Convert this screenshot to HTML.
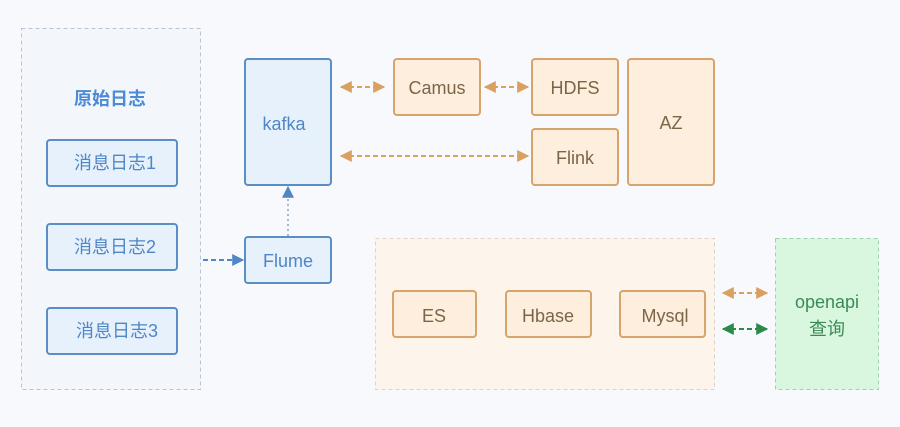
<!DOCTYPE html>
<html><head><meta charset="utf-8"><style>
html,body{margin:0;padding:0;background:#f8f9fc;}
svg{display:block}
text{font-family:"Liberation Sans","Noto Sans CJK SC",sans-serif;}
</style></head><body>
<svg width="900" height="427" viewBox="0 0 900 427" xmlns="http://www.w3.org/2000/svg">
<defs>
<marker id="ob" viewBox="0 0 10 10" refX="9" refY="5" markerWidth="6" markerHeight="6" orient="auto-start-reverse"><path d="M0,0L10,5L0,10z" fill="#d9a060"/></marker>
<marker id="bb" viewBox="0 0 10 10" refX="9" refY="5" markerWidth="6" markerHeight="6" orient="auto-start-reverse"><path d="M0,0L10,5L0,10z" fill="#4f86c6"/></marker>
<marker id="gb" viewBox="0 0 10 10" refX="9" refY="5" markerWidth="6" markerHeight="6" orient="auto-start-reverse"><path d="M0,0L10,5L0,10z" fill="#2a8a4a"/></marker>
</defs>
<rect width="900" height="427" fill="#f8f9fc"/>
<rect x="21.5" y="28.5" width="179" height="361" fill="#f3f7fc" stroke="#b8c4d2" stroke-dasharray="4,3"/>
<text x="110" y="105" text-anchor="middle" font-size="18" font-weight="bold" fill="#4a8ad6">原始日志</text>
<g fill="#e6f1fc" stroke="#5b8ec4" stroke-width="2">
<rect x="47" y="140" width="130" height="46" rx="3"/>
<rect x="47" y="224" width="130" height="46" rx="3"/>
<rect x="47" y="308" width="130" height="46" rx="3"/>
<rect x="245" y="59" width="86" height="126" rx="3"/>
<rect x="245" y="237" width="86" height="46" rx="3"/>
</g>
<g font-size="18" fill="#4f86c6" text-anchor="middle">
<text x="115" y="169">消息日志1</text>
<text x="115" y="253">消息日志2</text>
<text x="117" y="337">消息日志3</text>
<text x="284" y="130">kafka</text>
<text x="288" y="267">Flume</text>
</g>
<rect x="375.5" y="238.5" width="339" height="151" fill="#fdf4ec" stroke="#e2d2c2" stroke-dasharray="4,3"/>
<rect x="775.5" y="238.5" width="103" height="151" fill="#d9f7df" stroke="#9ed4aa" stroke-dasharray="4,3"/>
<g fill="#fdeedd" stroke="#d6a46c" stroke-width="2">
<rect x="394" y="59" width="86" height="56" rx="3"/>
<rect x="532" y="59" width="86" height="56" rx="3"/>
<rect x="532" y="129" width="86" height="56" rx="3"/>
<rect x="628" y="59" width="86" height="126" rx="3"/>
<rect x="393" y="291" width="83" height="46" rx="3"/>
<rect x="506" y="291" width="85" height="46" rx="3"/>
<rect x="620" y="291" width="85" height="46" rx="3"/>
</g>
<g font-size="18" fill="#7d6647" text-anchor="middle">
<text x="437" y="94">Camus</text>
<text x="575" y="94">HDFS</text>
<text x="575" y="164">Flink</text>
<text x="671" y="129">AZ</text>
<text x="434" y="322">ES</text>
<text x="548" y="322">Hbase</text>
<text x="665" y="322">Mysql</text>
</g>
<g font-size="18" fill="#3a8a56" text-anchor="middle">
<text x="827" y="308">openapi</text>
<text x="827" y="335">查询</text>
</g>
<g stroke-width="2" stroke-dasharray="5,3" fill="none">
<line x1="341" y1="87" x2="384" y2="87" stroke="#d9a060" marker-start="url(#ob)" marker-end="url(#ob)"/>
<line x1="485" y1="87" x2="528" y2="87" stroke="#d9a060" marker-start="url(#ob)" marker-end="url(#ob)"/>
<line x1="341" y1="156" x2="528" y2="156" stroke="#d9a060" marker-start="url(#ob)" marker-end="url(#ob)"/>
<line x1="723" y1="293" x2="767" y2="293" stroke="#d9a060" marker-start="url(#ob)" marker-end="url(#ob)"/>
<line x1="723" y1="329" x2="767" y2="329" stroke="#2a8a4a" marker-start="url(#gb)" marker-end="url(#gb)"/>
<line x1="203" y1="260" x2="243" y2="260" stroke="#4f86c6" marker-end="url(#bb)"/>
<line x1="288" y1="236" x2="288" y2="187" stroke="#a8b8cc" stroke-dasharray="2,3" marker-end="url(#bb)"/>
</g>
</svg>
</body></html>
